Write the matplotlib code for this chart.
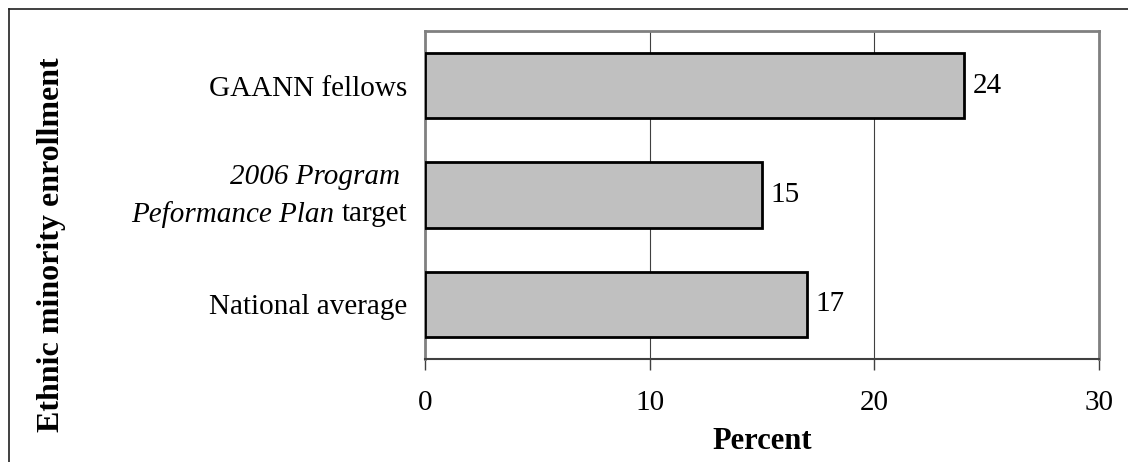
import matplotlib
matplotlib.use("Agg")
import matplotlib.pyplot as plt
from matplotlib.lines import Line2D

# Data (top to bottom)
categories = ["GAANN fellows",
              "2006 Program Peformance Plan target",
              "National average"]
percent = [24, 15, 17]
x_ticks = [0, 10, 20, 30]

plt.rcParams['font.family'] = ['Liberation Serif', 'DejaVu Serif']
FS = 21
PAD = 13  # points between axis and category labels

fig = plt.figure(figsize=(11.28, 4.62), dpi=100)
ax = fig.add_axes([0.3768, 0.2229, 0.5975, 0.7100])

y_pos = list(range(len(categories)))
bars = ax.barh(y_pos, percent, height=0.6, color='#c0c0c0',
               edgecolor='black', linewidth=2, zorder=3)
ax.bar_label(bars, labels=[str(v) for v in percent], padding=6, fontsize=FS)

ax.set_ylim(2.5, -0.5)
ax.set_xlim(0, 30)
ax.set_xticks(x_ticks)
ax.set_yticks(y_pos)
# the mixed italic label is drawn by hand below
ax.set_yticklabels([c if i != 1 else "" for i, c in enumerate(categories)],
                   fontsize=FS)
ax.tick_params(axis='y', length=0, pad=PAD)
ax.tick_params(axis='x', direction='out', length=8, width=1,
               color='#404040', labelsize=FS, pad=14)

# second category: italic title words plus plain "target"
t_target = ax.annotate("target", xy=(0, 1), xycoords=('axes fraction', 'data'),
                       xytext=(-PAD, -14), textcoords='offset points',
                       ha='right', va='center', fontsize=FS)
ax.annotate("Peformance Plan ", xy=(0, 0.5), xycoords=t_target,
            ha='right', va='center', fontsize=FS, style='italic')
ax.annotate("2006 Program ", xy=(0, 1), xycoords=('axes fraction', 'data'),
            xytext=(-PAD, 13), textcoords='offset points',
            ha='right', va='center', fontsize=FS, style='italic')

ax.grid(axis='x', color='#404040', linewidth=0.8, zorder=0)
for side in ['top', 'right', 'left']:
    ax.spines[side].set_color('#808080')
    ax.spines[side].set_linewidth(2)
ax.spines['bottom'].set_color('#404040')
ax.spines['bottom'].set_linewidth(1.5)

ax.set_xlabel('Percent', fontsize=22, fontweight='bold', labelpad=8)
fig.text(0.046, 0.471, 'Ethnic minority enrollment', rotation=90,
         fontsize=23, fontweight='bold', ha='center', va='center')

# outer frame (top and left edges only)
fig.add_artist(Line2D([0.008, 1.0], [0.980, 0.980], color='#202020', lw=1.2,
                      transform=fig.transFigure))
fig.add_artist(Line2D([0.008, 0.008], [0.0, 0.980], color='#202020', lw=1.2,
                      transform=fig.transFigure))

fig.savefig('out.png', dpi=100)
